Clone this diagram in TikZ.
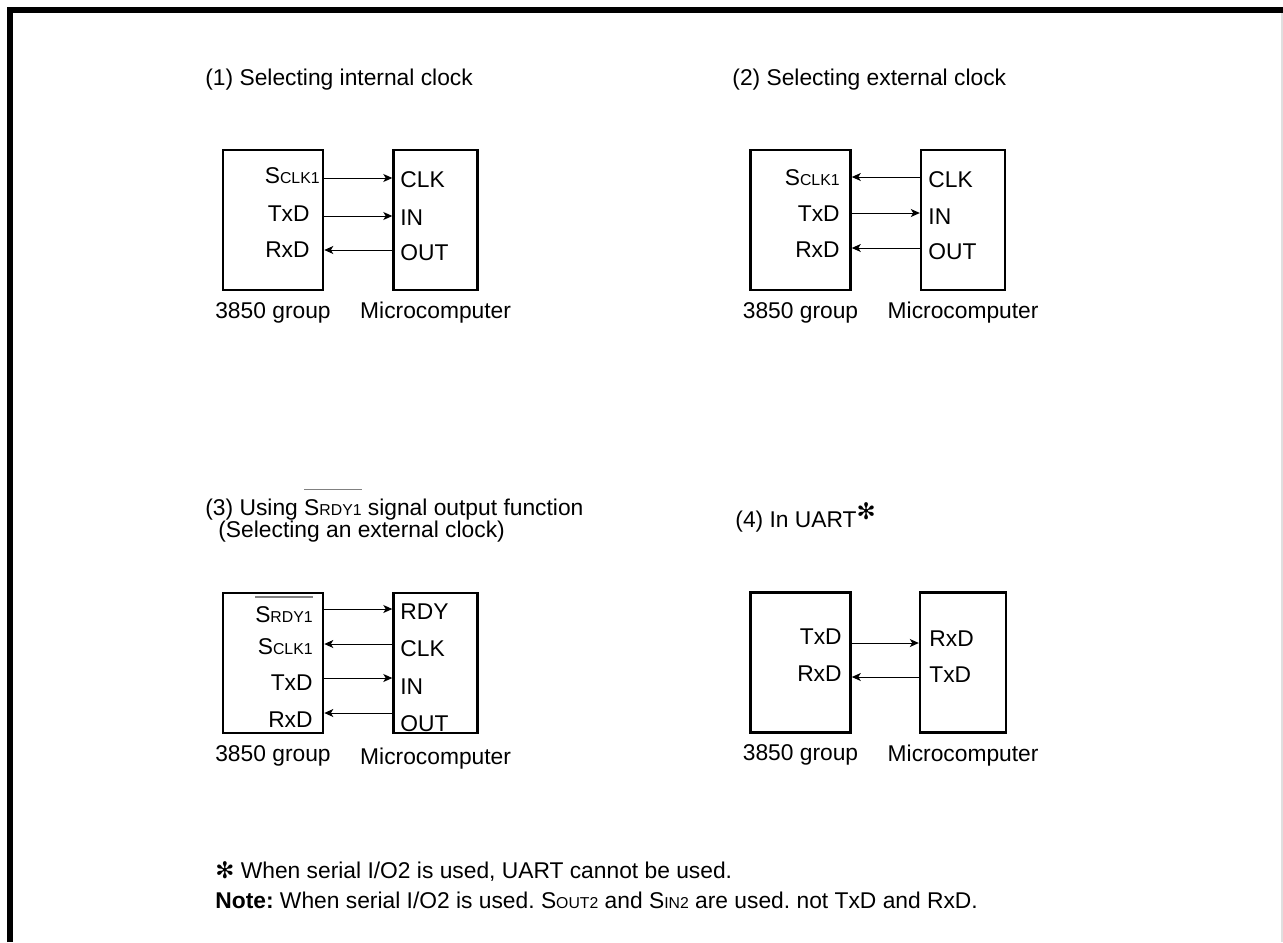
\documentclass[tikz,border=0pt]{standalone}
\usepackage{fontspec}
\setmainfont{Liberation Sans}
\newfontfamily\symfont{DejaVu Sans}
\usepackage{xcolor}
\usepackage{tikz}
\usetikzlibrary{arrows.meta,positioning}
\frenchspacing
\newcommand{\smc}[1]{{\fontsize{7.9}{9}\selectfont #1}}
\newcommand{\barsig}[1]{\setbox0=\hbox{#1}\rlap{\color{gray}\rule[12.5pt]{\wd0}{0.6pt}}\box0\relax}
\newcommand{\astr}{{\symfont\char"273B}}

\begin{document}
\begin{tikzpicture}[
  x=0.5pt, y=-0.5pt,
  font=\fontsize{11.4}{13.6}\selectfont,
  chip/.style={draw, line width=1.3pt, minimum height=70pt, inner sep=0pt},
  pinlbl/.style={inner sep=0pt, text height=1.5ex, text depth=.25ex},
  sig/.style={-{Stealth[length=4.5pt,width=4pt,inset=1.2pt]}, line width=0.5pt},
  title/.style={inner sep=0pt, anchor=base west}
]
\useasboundingbox (0,0) rectangle (1283,942);
\draw[line width=3pt] (10.3,942) -- (10.3,10.3) -- (1283,10.3);
\draw[gray!25, line width=0.6pt] (1282,13) -- (1282,942);

% (1) internal clock
\node[title] (t1) at (205,85) {(1) Selecting internal clock};
\node[chip, minimum width=50pt] (b1L) at (273,220) {};
\node[chip, minimum width=42pt, right=34pt of b1L] (b1R) {};
\node[below=2pt of b1L] (g1L) {3850 group};
\node[below=2pt of b1R] (g1R) {Microcomputer};
\node[pinlbl, anchor=east] (l1a) at (320,177) {S\smc{CLK1}};
\node[pinlbl, anchor=east] (l1b) at (310,215) {TxD};
\node[pinlbl, anchor=east] (l1c) at (310,251) {RxD};
\node[pinlbl, anchor=west] (r1a) at (400,181) {CLK};
\node[pinlbl, anchor=west] (r1b) at (400,219) {IN};
\node[pinlbl, anchor=west] (r1c) at (400,254) {OUT};
\coordinate (y1a) at (0,178);
\coordinate (y1b) at (0,216);
\coordinate (y1c) at (0,250);
\draw[sig] (b1L.east |- y1a) -- (b1R.west |- y1a);
\draw[sig] (b1L.east |- y1b) -- (b1R.west |- y1b);
\draw[sig] (b1R.west |- y1c) -- (b1L.east |- y1c);

% (2) external clock
\node[title] (t2) at (732,85) {(2) Selecting external clock};
\node[chip, minimum width=50pt] (b2L) at (800.5,220) {};
\node[chip, minimum width=42pt, right=34pt of b2L] (b2R) {};
\node[below=2pt of b2L] (g2L) {3850 group};
\node[below=2pt of b2R] (g2R) {Microcomputer};
\node[pinlbl, anchor=east] (l2a) at (840,179) {S\smc{CLK1}};
\node[pinlbl, anchor=east] (l2b) at (840,215) {TxD};
\node[pinlbl, anchor=east] (l2c) at (840,251) {RxD};
\node[pinlbl, anchor=west] (r2a) at (928,181) {CLK};
\node[pinlbl, anchor=west] (r2b) at (928,218) {IN};
\node[pinlbl, anchor=west] (r2c) at (928,253) {OUT};
\coordinate (y2a) at (0,177);
\coordinate (y2b) at (0,213);
\coordinate (y2c) at (0,248);
\draw[sig] (b2R.west |- y2a) -- (b2L.east |- y2a);
\draw[sig] (b2L.east |- y2b) -- (b2R.west |- y2b);
\draw[sig] (b2R.west |- y2c) -- (b2L.east |- y2c);

% (3) ready signal
\node[title] (t3) at (205,515) {(3) Using \barsig{S\smc{RDY1}} signal output function};
\node[title] (t3b) at (218,537) {(Selecting an external clock)};
\node[chip, minimum width=50pt] (b3L) at (273,663) {};
\node[chip, minimum width=42pt, right=34pt of b3L] (b3R) {};
\node[below=2pt of b3L] (g3L) {3850 group};
\node[below=3.5pt of b3R] (g3R) {Microcomputer};
\node[pinlbl, anchor=east] (l3a) at (313,616) {\barsig{S\smc{RDY1}}};
\node[pinlbl, anchor=east] (l3b) at (313,648) {S\smc{CLK1}};
\node[pinlbl, anchor=east] (l3c) at (313,684) {TxD};
\node[pinlbl, anchor=east] (l3d) at (313,721) {RxD};
\node[pinlbl, anchor=west] (r3a) at (400,613) {RDY};
\node[pinlbl, anchor=west] (r3b) at (400,650) {CLK};
\node[pinlbl, anchor=west] (r3c) at (400,688) {IN};
\node[pinlbl, anchor=west] (r3d) at (400,725) {OUT};
\coordinate (y3a) at (0,609);
\coordinate (y3b) at (0,644);
\coordinate (y3c) at (0,678);
\coordinate (y3d) at (0,713);
\draw[sig] (b3L.east |- y3a) -- (b3R.west |- y3a);
\draw[sig] (b3R.west |- y3b) -- (b3L.east |- y3b);
\draw[sig] (b3L.east |- y3c) -- (b3R.west |- y3c);
\draw[sig] (b3R.west |- y3d) -- (b3L.east |- y3d);

% (4) UART
\node[title] (t4) at (735,527) {(4) In UART\raisebox{4pt}{\astr}};
\node[chip, minimum width=50pt] (b4L) at (800.5,662.5) {};
\node[chip, minimum width=43pt, right=33.5pt of b4L] (b4R) {};
\node[below=2pt of b4L] (g4L) {3850 group};
\node[below=2pt of b4R] (g4R) {Microcomputer};
\node[pinlbl, anchor=east] (l4a) at (842,638) {TxD};
\node[pinlbl, anchor=east] (l4b) at (842,675) {RxD};
\node[pinlbl, anchor=west] (r4a) at (929,640) {RxD};
\node[pinlbl, anchor=west] (r4b) at (929,676) {TxD};
\coordinate (y4a) at (0,643);
\coordinate (y4b) at (0,677);
\draw[sig] (b4L.east |- y4a) -- (b4R.west |- y4a);
\draw[sig] (b4R.west |- y4b) -- (b4L.east |- y4b);

% notes
\node[title] (n1) at (215,878) {\astr\ When serial I/O2 is used, UART cannot be used.};
\node[title] (n2) at (215,908) {\textbf{Note:} When serial I/O2 is used. S\smc{OUT2} and S\smc{IN2} are used. not TxD and RxD.};
\end{tikzpicture}
\end{document}
